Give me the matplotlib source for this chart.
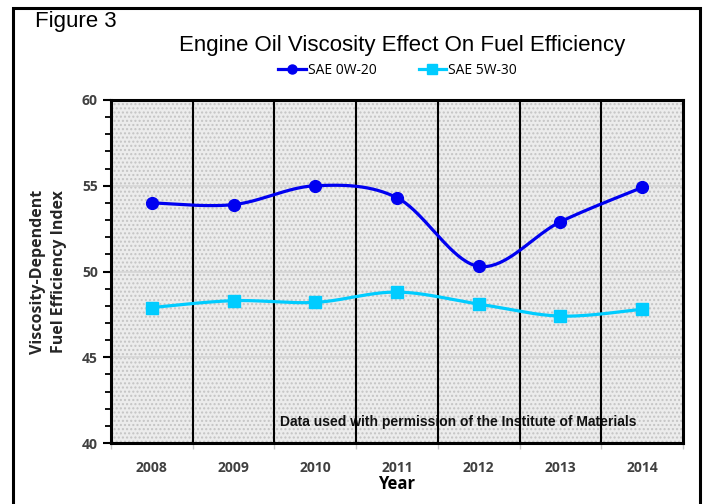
import matplotlib
matplotlib.use('Agg')
import matplotlib.pyplot as plt
import numpy as np
from matplotlib.patches import Rectangle

# Data
years = ['2008', '2009', '2010', '2011', '2012', '2013', '2014']
sae_0w20 = [54.0, 53.9, 55.0, 54.3, 50.3, 52.9, 54.9]
sae_5w30 = [47.9, 48.3, 48.2, 48.8, 48.1, 47.4, 47.8]
series_names = ['SAE 0W-20', 'SAE 5W-30']
y_ticks = [40, 45, 50, 55, 60]


def smooth(xs, ys, n=40):
    # Excel-style smoothed line (Catmull-Rom through the points)
    xs = np.asarray(xs, float)
    ys = np.asarray(ys, float)
    px = np.concatenate([[xs[0]], xs, [xs[-1]]])
    py = np.concatenate([[ys[0]], ys, [ys[-1]]])
    out_x, out_y = [], []
    t = np.linspace(0, 1, n)
    for i in range(1, len(px) - 2):
        p0x, p1x, p2x, p3x = px[i - 1], px[i], px[i + 1], px[i + 2]
        p0y, p1y, p2y, p3y = py[i - 1], py[i], py[i + 1], py[i + 2]
        c1x, c1y = p1x + (p2x - p0x) / 6, p1y + (p2y - p0y) / 6
        c2x, c2y = p2x - (p3x - p1x) / 6, p2y - (p3y - p1y) / 6
        bx = (1 - t) ** 3 * p1x + 3 * (1 - t) ** 2 * t * c1x + 3 * (1 - t) * t ** 2 * c2x + t ** 3 * p2x
        by = (1 - t) ** 3 * p1y + 3 * (1 - t) ** 2 * t * c1y + 3 * (1 - t) * t ** 2 * c2y + t ** 3 * p2y
        out_x.extend(bx)
        out_y.extend(by)
    return np.array(out_x), np.array(out_y)


fig = plt.figure(figsize=(7.04, 5.04), dpi=100, facecolor='white')
ax = fig.add_axes([0.1577, 0.121, 0.8125, 0.6806])

x = np.arange(len(years))

# dotted gray background
ax.set_facecolor('#ececec')
ax.add_patch(Rectangle((-0.5, 40), len(years), 20, facecolor='none',
                       edgecolor='#c4c4c4', hatch='....', linewidth=0, zorder=0))
for yv in y_ticks[1:-1]:
    ax.axhline(yv, color='#d6d6d6', lw=1.2, zorder=1)
for b in np.arange(0.5, len(years) - 0.5):
    ax.axvline(b, color='black', lw=1.5, zorder=2)

styles = [('#0000f0', 'o', 8.5), ('#00ccff', 's', 8)]
for vals, name, (col, mk, ms) in zip([sae_0w20, sae_5w30], series_names, styles):
    sx, sy = smooth(x, vals)
    ax.plot(sx, sy, color=col, lw=2.3, zorder=3)
    ax.plot(x, vals, linestyle='none', marker=mk, ms=ms, color=col, zorder=4)
    ax.plot([], [], color=col, lw=2.3, marker=mk, ms=6.5, label=name)

ax.set_xlim(-0.5, len(years) - 0.5)
ax.set_ylim(40, 60)
ax.set_xticks(x)
ax.set_xticklabels(years)
ax.set_xticks(np.arange(-0.5, len(years)), minor=True)
ax.tick_params(axis='x', which='major', length=0, pad=13)
ax.tick_params(axis='x', which='minor', length=4, color='#c8c8c8', width=1)
ax.set_yticks(y_ticks)
ax.set_yticks(np.arange(40, 61, 1), minor=True)
ax.tick_params(axis='y', which='major', length=6, width=1.5, color='black')
ax.tick_params(axis='y', which='minor', length=4, width=1.3, color='black')

for lab in ax.get_xticklabels() + ax.get_yticklabels():
    lab.set_fontfamily('Open Sans')
    lab.set_fontweight('bold')
    lab.set_fontsize(10)
    lab.set_color('#404040')

for s in ax.spines.values():
    s.set_linewidth(2.2)
    s.set_color('black')

ax.set_xlabel('Year', fontfamily='Open Sans', fontweight='bold', fontsize=12,
              labelpad=0)
ax.set_ylabel('Viscosity-Dependent\nFuel Efficiency Index', fontfamily='Open Sans',
              fontweight='bold', fontsize=11.5, color='#262626', labelpad=11,
              linespacing=1.35)

ax.text(3.75, 41.2, 'Data used with permission of the Institute of Materials',
        ha='center', va='center', fontfamily='Liberation Sans', fontweight='bold',
        fontsize=10, color='#111111', zorder=1.5)

fig.text(0.571, 0.909, 'Engine Oil Viscosity Effect On Fuel Efficiency',
         ha='center', va='center', fontfamily='Liberation Sans', fontsize=16)
fig.text(0.05, 0.958, 'Figure 3', ha='left', va='center',
         fontfamily='Liberation Sans', fontsize=16)

fig.legend(loc='center', bbox_to_anchor=(0.565, 0.861), ncol=2, frameon=False,
           prop={'family': 'Open Sans', 'size': 10}, handlelength=2.0,
           columnspacing=3.0, handletextpad=0.15)

# outer frame
fig.add_artist(Rectangle((0.0185, -0.1), 0.9755, 1.084, transform=fig.transFigure,
                         facecolor='none', edgecolor='black', lw=2.2))

fig.savefig('out.png', dpi=100, facecolor='white')
